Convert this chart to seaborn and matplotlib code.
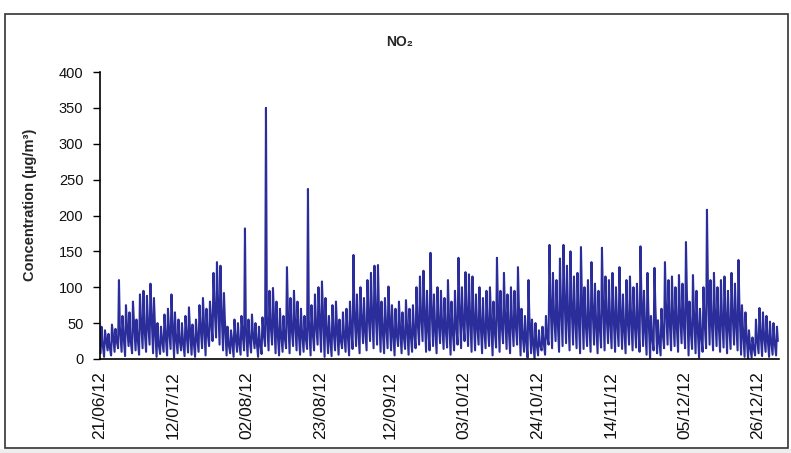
import numpy as np
import pandas as pd
import seaborn as sns
import matplotlib.pyplot as plt
import matplotlib.dates as mdates
from matplotlib.patches import Rectangle

sns.set_theme(style="white")
plt.rcParams['font.family'] = ['Liberation Sans', 'DejaVu Sans']

start = "2012-06-21"

# daily highs / lows / afternoon levels of NO2 (ug/m3)
daily_max = [45, 40, 35, 48, 42, 110, 60, 75, 65, 80, 55,
             90, 95, 88, 105, 85, 50, 45, 62, 70, 90, 65, 55,
             50, 60, 72, 48, 55, 75, 85, 70, 80, 120, 135, 130, 92,
             45, 40, 55, 50, 60, 182, 55, 62, 50, 45, 58, 350,
             95, 99, 80, 70, 60, 128, 85, 95, 80, 70, 60, 237,
             75, 90, 100, 108, 85, 60, 75, 80, 55, 65, 70, 80, 145,
             90, 100, 85, 110, 120, 130, 131, 80, 85, 101,
             75, 70, 80, 65, 82, 70, 75, 100, 115, 123, 95, 148,
             90, 100, 95, 85, 110, 80, 95, 141, 100, 121, 118, 115,
             90, 100, 85, 95, 100, 80, 141, 95, 120, 90, 100, 95, 128,
             70, 60, 110, 55, 50, 40, 45, 60, 159, 120, 110, 140, 159, 130,
             150, 115, 120, 156, 100, 110, 135, 105, 95, 155,
             115, 110, 120, 100, 128, 90, 110, 115, 100, 105,
             157, 95, 120, 60, 127, 54, 70, 135, 110,
             115, 100, 117, 105, 163, 80, 117, 95, 70, 100,
             208, 110, 120, 100, 110, 115, 95, 120, 105, 138,
             75, 65, 40, 30, 55, 71, 65, 60, 52, 50, 45]

daily_min = [8, 3, 12, 5, 10, 15, 10, 4, 18, 8, 12,
             6, 15, 10, 20, 8, 3, 7, 10, 5, 14, 2, 8,
             12, 4, 9, 6, 3, 10, 15, 5, 18, 25, 30, 20, 12,
             5, 8, 3, 10, 6, 12, 4, 9, 15, 3, 7, 18,
             12, 20, 8, 5, 10, 15, 8, 18, 12, 6, 10, 14,
             5, 12, 20, 10, 3, 8, 4, 12, 6, 15, 10, 5, 14,
             18, 8, 22, 12, 25, 15, 20, 10, 8, 15,
             12, 5, 18, 8, 14, 6, 10, 15, 20, 25, 10, 12,
             18, 8, 22, 14, 16, 6, 12, 20, 15, 25, 18, 10,
             12, 20, 8, 15, 18, 5, 16, 10, 22, 14, 8, 18, 20,
             5, 10, 2, 8, 0, 5, 12, 6, 20, 15, 25, 10, 18, 22,
             12, 20, 15, 8, 14, 18, 10, 20, 8, 16,
             12, 22, 15, 10, 18, 14, 8, 20, 12, 16,
             10, 18, 6, 0, 12, 8, 5, 15, 20,
             12, 18, 10, 22, 15, 5, 14, 8, 2, 10,
             15, 20, 12, 18, 10, 16, 8, 14, 20, 12,
             6, 3, 0, 2, 5, 8, 4, 10, 3, 6, 5]

daily_mid = [25, 30, 20, 35, 28, 45, 38, 50, 30, 55, 35,
             60, 48, 55, 70, 50, 25, 30, 40, 45, 55, 35, 30,
             28, 40, 45, 30, 35, 50, 55, 42, 60, 80, 90, 75, 55,
             25, 30, 35, 28, 40, 45, 32, 38, 30, 25, 40, 60,
             55, 65, 45, 40, 35, 70, 50, 60, 48, 42, 35, 55,
             45, 55, 65, 70, 50, 35, 45, 50, 30, 40, 45, 50, 70,
             55, 65, 50, 70, 75, 80, 75, 50, 55, 65,
             45, 40, 50, 38, 52, 42, 45, 60, 70, 75, 55, 80,
             55, 60, 58, 50, 65, 48, 55, 80, 60, 75, 70, 68,
             55, 60, 50, 58, 62, 48, 80, 55, 70, 55, 60, 58, 75,
             40, 35, 60, 30, 25, 22, 28, 35, 90, 70, 65, 85, 95, 75,
             85, 70, 72, 90, 60, 65, 80, 62, 55, 90,
             70, 65, 72, 60, 75, 55, 65, 70, 60, 62,
             90, 55, 70, 35, 75, 32, 42, 80, 65,
             70, 60, 72, 62, 95, 48, 70, 55, 40, 60,
             110, 65, 72, 60, 65, 70, 55, 72, 62, 80,
             45, 38, 22, 18, 32, 42, 38, 35, 30, 28, 25]

tick_dates = ["2012-06-21", "2012-07-12", "2012-08-02", "2012-08-23",
              "2012-09-12", "2012-10-03", "2012-10-24", "2012-11-14",
              "2012-12-05", "2012-12-26"]

days = pd.date_range(start, periods=len(daily_max), freq="D")
rows = []
for d, lo, hi, mid in zip(days, daily_min, daily_max, daily_mid):
    rows.append((d + pd.Timedelta(hours=4), lo))
    rows.append((d + pd.Timedelta(hours=10), hi))
    rows.append((d + pd.Timedelta(hours=16), mid))
df = pd.DataFrame(rows, columns=["time", "no2"])

fig = plt.figure(figsize=(7.91, 4.53), dpi=100)
fig.patch.set_facecolor("white")

# outer chart frame
fig.patches.append(Rectangle((5 / 791, 1 - 448 / 453), 783 / 791, 434 / 453,
                             transform=fig.transFigure, fill=False,
                             edgecolor="#333333", linewidth=1.2))
fig.patches.append(Rectangle((0, 0), 1, 4 / 453, transform=fig.transFigure,
                             facecolor="#eeeeee", edgecolor="none"))

ax = fig.add_axes([100 / 791, 1 - 359 / 453, 679 / 791, 287 / 453])
sns.lineplot(data=df, x="time", y="no2", color="#2b2d9b", linewidth=1.5, ax=ax)

ax.set_xlim(pd.Timestamp(start), pd.Timestamp(start) + pd.Timedelta(days=194))
ax.set_ylim(0, 400)
ax.set_yticks(range(0, 401, 50))
ax.set_xticks(pd.to_datetime(tick_dates))
ax.xaxis.set_major_formatter(mdates.DateFormatter("%d/%m/%y"))
ax.tick_params(axis="y", left=True, length=5, width=1, color="black",
               labelsize=10.5, pad=7, labelcolor="#111111")
ax.tick_params(axis="x", bottom=False, labelsize=12.5, pad=3,
               labelcolor="#111111", labelrotation=90)
ax.set_xlabel("")
ax.set_ylabel("")
for s in ["left", "bottom"]:
    ax.spines[s].set_color("black")
    ax.spines[s].set_linewidth(1.2)
sns.despine(ax=ax)

fig.text(400 / 791, 1 - 42 / 453, "NO₂", ha="center", va="center",
         fontsize=10, fontweight="bold")
fig.text(30 / 791, 1 - 205 / 453, "Concentration (µg/m³)", rotation=90,
         ha="center", va="center", fontsize=10.5, fontweight="bold")

fig.savefig("out.png", dpi=100)
